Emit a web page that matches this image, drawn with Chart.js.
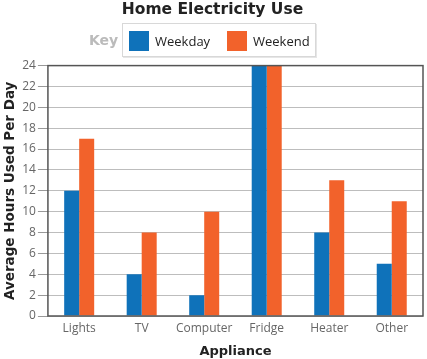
<!DOCTYPE html>
<html><head><meta charset="utf-8">
<script src="https://cdn.jsdelivr.net/npm/chart.js@4.4.0/dist/chart.umd.min.js"></script>
<style>
html,body{margin:0;padding:0;background:#fff;}
#wrap{position:relative;width:427px;height:359px;}
canvas{position:absolute;left:0;top:0;}
#key{position:absolute;left:89px;top:32px;font:bold 14px "DejaVu Sans",sans-serif;color:#bbb;}
#leg{position:absolute;left:122px;top:23px;width:192px;height:32px;border:1px solid #d8d8d8;box-shadow:1px 1px 0 #e6e6e6;font:13px "Open Sans",sans-serif;color:#222;}
.sw{position:absolute;top:7px;width:20px;height:20px;}
.lt{position:absolute;top:8px;}
</style></head>
<body><div id="wrap"><canvas id="c" width="427" height="359"></canvas>
<div id="key">Key</div>
<div id="leg"><div class="sw" style="left:6px;background:#0F72BA"></div><div class="lt" style="left:32px">Weekday</div>
<div class="sw" style="left:104px;background:#F2622B"></div><div class="lt" style="left:130px">Weekend</div></div>
</div>
<script>
const categories = ["Lights","TV","Computer","Fridge","Heater","Other"];
const seriesNames = ["Weekday","Weekend"];
const weekday = [12,4,2,24,8,5];
const weekend = [17,8,10,24,13,11];
const yMax = 24;

const borderPlugin = {
  id:'plotBorder',
  afterDatasetsDraw(chart){
    const {ctx, chartArea:a} = chart;
    ctx.save();
    ctx.strokeStyle='#555';
    ctx.lineWidth=1.5;
    ctx.strokeRect(a.left,a.top,a.right-a.left,a.bottom-a.top);
    ctx.restore();
  }
};

new Chart(document.getElementById('c'),{
  type:'bar',
  data:{labels:categories,datasets:[
    {label:seriesNames[0],data:weekday,backgroundColor:'#0F72BA',barPercentage:1,categoryPercentage:0.48},
    {label:seriesNames[1],data:weekend,backgroundColor:'#F2622B',barPercentage:1,categoryPercentage:0.48}
  ]},
  options:{
    responsive:false,animation:false,
    layout:{padding:{left:2,right:4,top:0,bottom:0}},
    plugins:{
      legend:{display:false},
      tooltip:{enabled:false},
      title:{display:true,text:'Home Electricity Use',color:'#222',font:{family:'DejaVu Sans',size:15.5,weight:'bold'},padding:{top:1,bottom:46}}
    },
    scales:{
      x:{
        grid:{display:false,drawTicks:false},
        border:{display:false},
        ticks:{color:'#666',font:{family:'Open Sans',size:12},padding:5},
        title:{display:true,text:'Appliance',color:'#222',font:{family:'DejaVu Sans',size:13,weight:'bold'},padding:{top:3,bottom:0}}
      },
      y:{
        min:0,max:yMax,
        border:{display:false},
        grid:{
          color:c=>c.tick.value%2===0?'#bdbdbd':'#ebebeb',
          tickColor:c=>c.tick.value%2===0?'#999':'rgba(0,0,0,0)',
          tickLength:10,lineWidth:1
        },
        ticks:{stepSize:1,color:'#666',font:{family:'Open Sans',size:12},padding:2,
          callback:v=>v%2===0?v:''},
        title:{display:true,text:'Average Hours Used Per Day',color:'#222',font:{family:'DejaVu Sans',size:13.5,weight:'bold'},padding:{top:0,bottom:2}}
      }
    }
  },
  plugins:[borderPlugin]
});
</script>
</body></html>
